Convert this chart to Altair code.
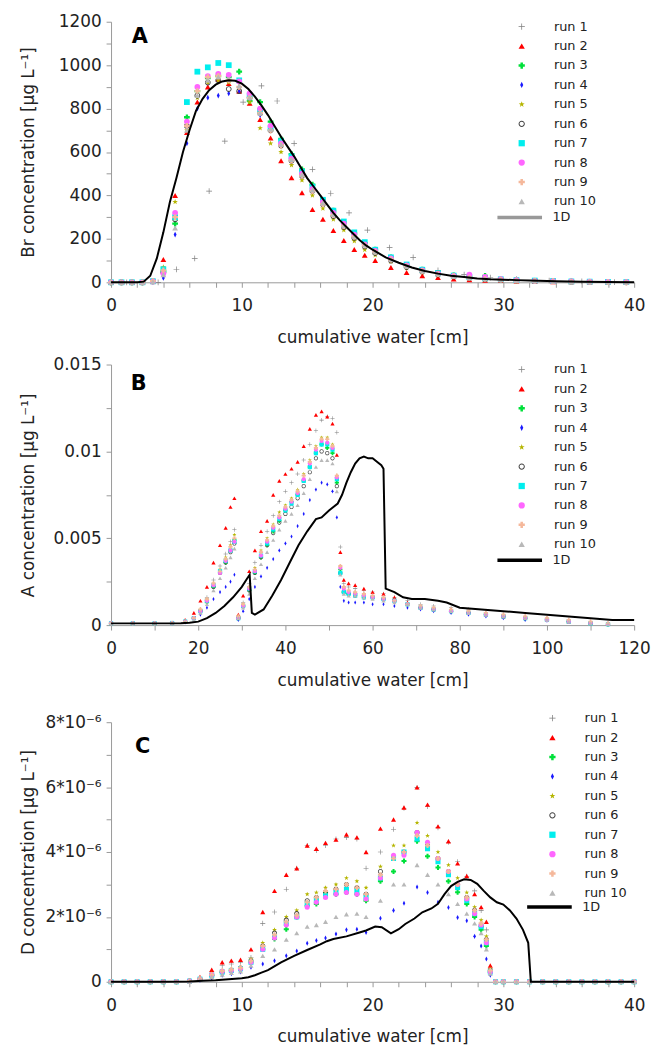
import altair as alt
import pandas as pd

FONT = "DejaVu Sans"
RUNS = ["run 1", "run 2", "run 3", "run 4", "run 5", "run 6", "run 7", "run 8", "run 9", "run 10"]
RUN_COLORS = ["#7f7f7f", "#ff0000", "#00e03a", "#1a1aff", "#b5b500", "#444444",
              "#00eeee", "#ff66ff", "#f5b89b", "#b8b8b8"]
PLUS = "M-1,-0.12L1,-0.12L1,0.12L-1,0.12Z M-0.12,-1L0.12,-1L0.12,1L-0.12,1Z"
THIN_DIAMOND = "M0,-1L0.5,0L0,1L-0.5,0Z"
STAR = ("M0,-1L0.235,-0.324L0.951,-0.309L0.38,0.124L0.588,0.809L0,0.4"
        "L-0.588,0.809L-0.38,0.124L-0.951,-0.309L-0.235,-0.324Z")
RING = ("M1,0A1,1,0,1,1,-1,0A1,1,0,1,1,1,0Z "
        "M0.68,0A0.68,0.68,0,1,0,-0.68,0A0.68,0.68,0,1,0,0.68,0Z")
RUN_SHAPES = [PLUS, "triangle-up", "cross", THIN_DIAMOND, STAR, RING,
              "square", "circle", "cross", "triangle-up"]

# ---------------- Panel A: Br ----------------
A_X = [0, 0.8, 1.6, 2.4, 3.2, 4.0, 4.9, 5.8, 6.6, 7.4,
       8.2, 9.0, 9.8, 10.6, 11.4, 12.2, 13.0, 13.8, 14.6, 15.4,
       16.2, 17.0, 17.8, 18.6, 19.4, 20.2, 21.4, 22.6, 23.8, 25.0,
       26.2, 27.4, 28.6, 29.8, 31.0, 32.4, 33.8, 35.2, 36.6, 38.0, 39.4]
A_RUN1_X = [0, 1.2, 2.4, 3.6, 5.0, 6.4, 7.5, 8.7, 10.1, 11.5, 12.7, 14.0, 15.4,
            16.8, 18.2, 19.6, 21.3, 23.1, 25.0, 27.0, 29.0, 31.0, 33.5, 36.0, 38.5]
A_RUN1_Y = [0, 0, 0, 0, 60, 110, 420, 650, 830, 905, 835, 640, 520,
            410, 320, 240, 160, 115, 55, 35, 22, 15, 8, 4, 1]
A_RUN2 = [0, 0, 0, 0, 8, 105, 400, 690, 830, 900, 935, 915, 880, 825, 750, 665, 560, 481, 412, 335,
          290, 238, 192, 151, 125, 100, 68, 45, 30, 22, 15, 12, 10, 8, 6, 4, 3, 2, 1, 1, 0]
A_RUN3 = [0, 0, 0, 0, 5, 50, 270, 760, 880, 940, 950, 945, 970, 835, 830, 740, 660, 590, 520, 450,
          380, 330, 275, 225, 180, 150, 115, 80, 58, 42, 32, 25, 30, 12, 9, 7, 5, 3, 2, 1, 1]
A_RUN4 = [0, 0, 0, 0, 3, 20, 220, 640, 800, 850, 860, 870, 880, 860, 770, 700, 640, 570, 500, 430,
          370, 315, 265, 215, 175, 145, 110, 78, 55, 40, 30, 22, 17, 13, 10, 8, 6, 4, 3, 2, 1]
A_RUN5 = [0, 0, 0, 0, 6, 70, 370, 700, 850, 920, 930, 920, 900, 830, 710, 640, 600, 540, 470, 400,
          340, 290, 240, 190, 150, 125, 95, 65, 45, 33, 25, 18, 14, 10, 8, 6, 4, 3, 2, 1, 0]
A_RUN6 = [0, 0, 0, 0, 4, 45, 290, 720, 860, 920, 930, 890, 880, 850, 780, 700, 630, 560, 490, 420,
          360, 305, 255, 205, 165, 135, 100, 70, 50, 36, 27, 20, 15, 12, 9, 7, 5, 3, 2, 1, 0]
A_RUN7 = [0, 0, 0, 0, 5, 60, 300, 830, 970, 990, 1010, 1000, 930, 860, 790, 710, 650, 580, 510, 440,
          380, 330, 280, 230, 185, 150, 115, 82, 58, 42, 31, 24, 18, 14, 10, 8, 6, 4, 3, 2, 1]
A_RUN8 = [0, 0, 0, 0, 4, 40, 320, 740, 900, 950, 960, 955, 925, 870, 800, 720, 640, 570, 500, 430,
          370, 320, 270, 220, 175, 145, 110, 78, 55, 40, 30, 35, 25, 14, 10, 7, 5, 4, 3, 2, 1]
A_RUN9 = [0, 0, 0, 0, 5, 55, 300, 720, 880, 945, 950, 930, 900, 850, 780, 700, 630, 560, 490, 420,
          360, 310, 260, 210, 170, 140, 105, 74, 52, 38, 28, 21, 16, 12, 9, 7, 5, 3, 2, 1, 0]
A_RUN10 = [0, 0, 0, 0, 3, 35, 250, 700, 860, 930, 945, 935, 905, 850, 780, 705, 635, 565, 495, 425,
           365, 312, 262, 212, 172, 140, 105, 74, 52, 38, 28, 21, 16, 12, 9, 7, 5, 3, 2, 1, 0]
A_LINE_X = [0, 1, 2, 2.5, 3, 3.5, 4, 4.5, 5, 5.5, 6, 6.5, 7, 7.5, 8, 8.5, 9, 9.5, 10, 10.5,
            11, 11.5, 12, 12.5, 13, 13.5, 14, 14.5, 15, 15.5, 16, 16.5, 17, 17.5, 18, 18.5, 19, 19.5,
            20, 21, 22, 23, 24, 25, 26, 27, 28, 29, 30, 31, 32, 34, 36, 38, 40]
A_LINE_Y = [0, 0, 0, 3, 30, 110, 230, 370, 480, 600, 700, 790, 845, 885, 910, 925, 930, 928, 915, 890,
            855, 815, 770, 720, 670, 625, 580, 530, 480, 440, 400, 360, 320, 285, 255, 225, 195, 170,
            150, 115, 90, 68, 52, 40, 30, 24, 18, 14, 12, 10, 8, 5, 3, 1, 0]

# ---------------- Panel B: A ----------------
B_X = [0, 5, 10, 14, 17, 19, 20.5, 22, 23.5, 25,
       26.3, 27.4, 28.3, 29.2, 30.3, 31.7, 33, 34.4, 35.8, 37.2,
       38.6, 40, 41.4, 42.8, 44.2, 45.6, 47, 48.3, 49.6, 50.8,
       51.8, 52.6, 53.4, 54.5, 56, 58, 60, 62.5, 65, 68,
       71, 74, 78, 82, 86, 90, 95, 100, 105, 110, 114]
B_RUN1 = [.0001, .0001, .0001, .00012, .0002, .0004, .0009, .0016, .0026, .0034,
          .0041, .0048, .0055, .0005, .0013, .0024, .0036, .0046, .0054, .0063,
          .0071, .0077, .0082, .0087, .0095, .0104, .0112, .0118, .012, .0119,
          .0111, .0045, .0024, .0022, .0021, .002, .0019, .0018, .0016, .0014,
          .0012, .0011, .001, .0009, .0007, .0006, .0005, .0004, .0003, .0002, .0001]
B_RUN2 = [.0001, .0001, .0001, .00015, .0003, .0007, .0014, .0022, .0036, .0046,
          .0056, .0068, .0073, .0006, .0017, .0031, .0043, .0054, .006, .0075,
          .0083, .0087, .009, .0094, .0103, .0113, .0121, .0123, .012, .0116,
          .0098, .0042, .0026, .0024, .0023, .0021, .0019, .0018, .0016, .0013,
          .0011, .001, .0009, .0008, .0006, .0005, .0004, .0003, .0002, .00012, .00005]
B_RUN3 = [.0001, .0001, .0001, .00012, .0002, .0004, .0008, .0013, .0022, .003,
          .0036, .0043, .0049, .0004, .0011, .002, .003, .0039, .0046, .0054,
          .006, .0066, .0071, .0075, .0083, .0091, .0099, .0104, .0102, .0099,
          .0082, .0032, .0019, .0018, .0018, .0017, .0016, .0015, .0014, .0012,
          .001, .0009, .0008, .0007, .0006, .0005, .0004, .0003, .0002, .0001, .00005]
B_RUN4 = [.00008, .00008, .00008, .0001, .00015, .0003, .0006, .001, .0015, .0019,
          .0022, .0025, .0029, .0003, .0008, .0015, .0022, .0028, .0033, .0038,
          .0043, .0047, .0051, .0057, .0064, .0072, .0078, .0082, .0081, .0077,
          .0062, .0022, .0014, .0013, .0013, .0013, .0012, .0012, .0011, .001,
          .0009, .0008, .0007, .0006, .0005, .0004, .0003, .00025, .0002, .0001, .00005]
B_RUN5 = [.0001, .0001, .0001, .00012, .0002, .0004, .0009, .0015, .0024, .0032,
          .0039, .0046, .0052, .0005, .0012, .0022, .0033, .0043, .005, .0058,
          .0065, .0069, .0073, .0078, .0087, .0095, .0103, .0108, .0108, .0104,
          .0086, .0034, .002, .0019, .0018, .0017, .0016, .0015, .0014, .0012,
          .001, .0009, .0008, .0007, .0006, .0005, .0004, .0003, .0002, .0001, .00005]
B_RUN6 = [.0001, .0001, .0001, .00012, .0002, .0004, .0008, .0014, .0022, .003,
          .0036, .0042, .0047, .0004, .0011, .002, .003, .0039, .0046, .0053,
          .0059, .0064, .0068, .0073, .008, .0088, .0096, .01, .0099, .0096,
          .008, .003, .0019, .0018, .0017, .0016, .0016, .0015, .0014, .0012,
          .001, .0009, .0008, .0007, .0006, .0005, .0004, .0003, .0002, .0001, .00005]
B_RUN7 = [.0001, .0001, .0001, .00012, .0002, .0004, .0008, .0014, .0023, .0031,
          .0037, .0043, .0048, .0004, .0011, .0021, .0031, .004, .0047, .0055,
          .0061, .0066, .007, .0075, .0083, .0091, .0099, .0104, .0104, .0101,
          .0084, .003, .0019, .0018, .0017, .0016, .0016, .0015, .0014, .0012,
          .001, .0009, .0008, .0007, .0006, .0005, .0004, .0003, .0002, .0001, .00005]
B_RUN8 = [.0001, .0001, .0001, .00012, .0002, .0004, .0008, .0014, .0023, .003,
          .0037, .0043, .0048, .0004, .0011, .0021, .0031, .004, .0048, .0056,
          .0062, .0067, .0071, .0076, .0084, .0093, .0101, .0106, .0105, .0102,
          .0085, .0033, .0021, .0019, .0018, .0017, .0016, .0015, .0014, .0012,
          .001, .0009, .0008, .0007, .0006, .0005, .0004, .0003, .0002, .0001, .00005]
B_RUN9 = [.0001, .0001, .0001, .00012, .0002, .0004, .0009, .0015, .0024, .0031,
          .0038, .0045, .005, .0005, .0012, .0022, .0032, .0042, .0049, .0057,
          .0063, .0068, .0072, .0077, .0086, .0094, .0102, .0107, .0107, .0103,
          .0086, .0034, .0022, .002, .0019, .0018, .0017, .0016, .0014, .0012,
          .0011, .001, .0009, .0008, .0007, .0006, .0005, .0004, .0003, .0002, .0001]
B_RUN10 = [.0001, .0001, .0001, .00012, .0002, .0003, .0007, .0012, .002, .0027,
           .0033, .0039, .0044, .0004, .001, .0018, .0027, .0035, .0042, .0049,
           .0055, .006, .0064, .0069, .0076, .0084, .0091, .0095, .0095, .0093,
           .0077, .0029, .0018, .0017, .0017, .0016, .0015, .0014, .0013, .0012,
           .001, .0009, .0008, .0007, .0006, .0005, .0004, .0003, .0002, .0001, .00005]
B_LINE_X = [0, 10, 16, 18, 20, 22, 24, 26, 28, 30, 31, 31.8, 32.3, 33, 35, 37, 39, 41, 43, 45,
            47, 48.3, 50, 52, 53, 54, 55, 56, 57, 58, 59, 60, 61, 62, 62.5, 63.0, 65, 67, 69, 72,
            75, 77, 80, 85, 90, 95, 100, 105, 110, 115, 120]
B_LINE_Y = [.0001, .0001, .00011, .00014, .0002, .0004, .0007, .0011, .0016, .0022,
            .0026, .0029, .0007, .0006, .0009, .0017, .0026, .0036, .0046, .0054,
            .0061, .0062, .0066, .0070, .0075, .0082, .0088, .0093, .0096, .0097,
            .0096, .0096, .0094, .0092, .0090, .0021, .0019, .0016, .0015, .0015,
            .0014, .0013, .0010, .0009, .0008, .0007, .0006, .0005, .0004, .0003, .0003]

# ---------------- Panel C: D (values in units of 1e-6) ----------------
C_X = [0, 1, 2, 3, 4, 5, 6, 6.8, 7.7, 8.5, 9.2, 9.9, 10.7, 11.6, 12.5, 13.4, 14.2,
       15.0, 15.7, 16.4, 17.2, 18.0, 18.8, 19.5, 20.6, 21.6, 22.4, 23.4, 24.2, 25.0,
       25.8, 26.5, 27.2, 27.8, 28.3, 28.7, 29.0, 29.4, 30.0, 31, 32, 33, 34, 35, 36,
       37, 38, 39, 40]
C_RUN1 = [0, 0, 0, 0, 0, 0, 0.03, 0.1, 0.3, 0.5, 0.55, 0.6, 0.75, 1.8, 2.15, 2.85, 3.5,
          4.2, 4.05, 4.2, 4.4, 4.45, 4.4, 3.5, 4.0, 4.7, 5.35, 5.99, 5.4, 4.75,
          4.3, 3.7, 3.25, 2.8, 2.2, 1.6, 0.4, 0, 0, 0, 0, 0, 0, 0, 0, 0, 0, 0, 0]
C_RUN2 = [0, 0, 0, 0, 0, 0, 0.05, 0.15, 0.37, 0.6, 0.65, 0.68, 1.0, 2.15, 2.8, 3.3, 3.5,
          4.2, 4.1, 4.28, 4.38, 4.54, 4.45, 4.0, 4.72, 5.0, 5.37, 5.99, 5.46, 4.79,
          4.33, 3.65, 3.26, 2.7, 2.3, 1.85, 0.5, 0, 0, 0, 0, 0, 0, 0, 0, 0, 0, 0, 0]
C_RUN3 = [0, 0, 0, 0, 0, 0, 0.02, 0.08, 0.2, 0.3, 0.35, 0.4, 0.6, 1.0, 1.32, 1.62, 2.0,
          2.34, 2.4, 2.75, 2.7, 2.75, 2.7, 2.5, 3.1, 3.4, 3.72, 4.33, 3.87, 3.52,
          3.1, 2.76, 2.4, 2.0, 1.6, 1.1, 0.3, 0, 0, 0, 0, 0, 0, 0, 0, 0, 0, 0, 0]
C_RUN4 = [0, 0, 0, 0, 0, 0, 0.01, 0.05, 0.12, 0.2, 0.25, 0.3, 0.45, 0.55, 0.65, 0.8, 0.95,
          1.19, 1.27, 1.35, 1.47, 1.6, 1.62, 1.52, 1.96, 2.2, 2.42, 2.92, 2.75, 2.45,
          2.29, 1.98, 1.88, 1.4, 1.1, 0.7, 0.2, 0, 0, 0, 0, 0, 0, 0, 0, 0, 0, 0, 0]
C_RUN5 = [0, 0, 0, 0, 0, 0, 0.02, 0.1, 0.25, 0.35, 0.4, 0.45, 0.7, 1.2, 1.6, 2.0, 2.2,
          2.7, 2.75, 2.9, 3.0, 3.2, 3.1, 2.9, 3.55, 4.2, 4.2, 4.9, 4.5, 4.0,
          3.6, 3.2, 2.75, 2.3, 1.9, 1.4, 0.4, 0, 0, 0, 0, 0, 0, 0, 0, 0, 0, 0, 0]
C_RUN6 = [0, 0, 0, 0, 0, 0, 0.02, 0.08, 0.2, 0.3, 0.35, 0.42, 0.65, 1.1, 1.5, 1.9, 2.1,
          2.5, 2.6, 2.75, 2.85, 3.0, 2.9, 2.7, 3.4, 3.8, 4.0, 4.6, 4.2, 3.8,
          3.4, 3.0, 2.6, 2.2, 1.7, 1.3, 0.35, 0, 0, 0, 0, 0, 0, 0, 0, 0, 0, 0, 0]
C_RUN7 = [0, 0, 0, 0, 0, 0, 0.02, 0.08, 0.2, 0.3, 0.35, 0.4, 0.6, 1.0, 1.4, 1.8, 2.0,
          2.4, 2.5, 2.65, 2.75, 2.85, 2.8, 2.6, 3.2, 3.8, 4.0, 4.4, 4.1, 3.7,
          3.3, 2.9, 2.5, 2.1, 1.7, 1.2, 0.3, 0, 0, 0, 0, 0, 0, 0, 0, 0, 0, 0, 0]
C_RUN8 = [0, 0, 0, 0, 0, 0, 0.02, 0.08, 0.22, 0.32, 0.35, 0.4, 0.6, 1.0, 1.35, 1.75, 2.0,
          2.3, 2.45, 2.6, 2.7, 2.75, 2.7, 2.55, 3.2, 3.9, 3.9, 4.6, 4.3, 3.8,
          3.4, 3.0, 2.55, 2.1, 1.75, 1.2, 0.3, 0, 0, 0, 0, 0, 0, 0, 0, 0, 0, 0, 0]
C_RUN9 = [0, 0, 0, 0, 0, 0, 0.02, 0.09, 0.22, 0.33, 0.38, 0.43, 0.65, 1.1, 1.45, 1.85, 2.05,
          2.45, 2.6, 2.8, 2.85, 3.0, 2.9, 2.7, 3.3, 3.8, 4.0, 4.5, 4.2, 3.8,
          3.4, 3.0, 2.6, 2.2, 1.8, 1.3, 0.35, 0, 0, 0, 0, 0, 0, 0, 0, 0, 0, 0, 0]
C_RUN10 = [0, 0, 0, 0, 0, 0, 0.01, 0.06, 0.15, 0.22, 0.28, 0.32, 0.5, 0.8, 1.0, 1.3, 1.5,
           1.7, 1.75, 1.85, 2.0, 2.08, 2.1, 2.0, 2.5, 3.0, 3.0, 3.6, 3.3, 3.0,
           2.7, 2.4, 2.1, 1.8, 1.5, 1.0, 0.25, 0, 0, 0, 0, 0, 0, 0, 0, 0, 0, 0, 0]
C_LINE_X = [0, 4, 6, 7, 8, 9, 10, 10.5, 11, 11.5, 12, 13, 14, 15, 16, 16.5, 17, 18, 19, 19.5,
            20.2, 20.7, 21.4, 22, 22.5, 23.2, 23.8, 24.5, 25, 25.5, 26, 26.5, 27, 27.5, 28, 28.5,
            29, 29.5, 30, 30.5, 31, 31.5, 31.9, 32.1, 33, 36, 40]
C_LINE_Y = [0, 0, 0.01, 0.03, 0.05, 0.08, 0.11, 0.14, 0.2, 0.28, 0.36, 0.6, 0.8, 0.98, 1.15, 1.25,
            1.32, 1.4, 1.52, 1.58, 1.7, 1.68, 1.49, 1.62, 1.78, 1.95, 2.14, 2.26, 2.4, 2.7, 2.95,
            3.08, 3.16, 3.14, 3.02, 2.8, 2.6, 2.45, 2.38, 2.2, 1.95, 1.6, 1.2, 0, 0, 0, 0]


def runs_frame(xs_list, ys_list):
    rows = []
    for name, xs, ys in zip(RUNS, xs_list, ys_list):
        for xv, yv in zip(xs, ys):
            rows.append({"run": name, "x": xv, "y": yv})
    return pd.DataFrame(rows)


def panel(letter, pts, line, x_dom, x_vals, x_lab, y_dom, y_vals, y_lab, y_fmt, y_title,
          pt_size, leg_x, leg_y, key_x, key_y, key_color, tag_x, tag_y, h):
    x_enc = alt.X("x:Q", scale=alt.Scale(domain=x_dom, nice=False, zero=False),
                  axis=alt.Axis(values=x_vals, labelExpr=x_lab, title="cumulative water [cm]",
                                labelPadding=10.5, titlePadding=16, labelOverlap=False,
                                labelFlush=False))
    y_enc = alt.Y("y:Q", scale=alt.Scale(domain=y_dom, nice=False),
                  axis=alt.Axis(values=y_vals, labelExpr=y_lab, format=y_fmt, title=y_title,
                                labelPadding=5, titlePadding=10, minExtent=64, maxExtent=64,
                                labelOverlap=False, labelFlush=False))
    run_legend = alt.Legend(title=None, orient="none", legendX=leg_x, legendY=leg_y,
                            symbolSize=40, labelFont=FONT, labelFontSize=13, labelColor="#222",
                            labelOffset=26, rowPadding=5.6, padding=0)
    points = alt.Chart(pts).mark_point(filled=True, opacity=1, size=pt_size).encode(
        x=x_enc, y=y_enc,
        color=alt.Color("run:N", scale=alt.Scale(domain=RUNS, range=RUN_COLORS), legend=run_legend),
        shape=alt.Shape("run:N", scale=alt.Scale(domain=RUNS, range=RUN_SHAPES), legend=run_legend),
    )
    curve = alt.Chart(line).mark_line(color="black", strokeWidth=2).encode(x=x_enc, y=y_enc)
    key_df = pd.DataFrame({"x": [x_dom[0]], "y": [y_dom[0]], "model": ["1D"]})
    key = alt.Chart(key_df).mark_line().encode(
        x=x_enc, y=y_enc,
        stroke=alt.Stroke("model:N", scale=alt.Scale(domain=["1D"], range=[key_color]),
                          legend=alt.Legend(title=None, orient="none", legendX=key_x, legendY=key_y,
                                            symbolType="stroke", symbolSize=2025,
                                            symbolStrokeWidth=3.5, labelFont=FONT,
                                            labelFontSize=13, labelColor="#222",
                                            labelOffset=8.5, padding=0)),
    )
    tag = alt.Chart(pd.DataFrame({"label": [letter]})).mark_text(
        font=FONT, fontSize=21, fontWeight="bold", color="black", align="center", baseline="middle"
    ).encode(x=alt.value(tag_x), y=alt.value(tag_y), text="label:N")
    return alt.layer(points, curve, key, tag).properties(width=528, height=h)


ptsA = runs_frame([A_RUN1_X] + [A_X] * 9,
                  [A_RUN1_Y, A_RUN2, A_RUN3, A_RUN4, A_RUN5, A_RUN6, A_RUN7, A_RUN8, A_RUN9, A_RUN10])
ptsB = runs_frame([B_X] * 10,
                  [B_RUN1, B_RUN2, B_RUN3, B_RUN4, B_RUN5, B_RUN6, B_RUN7, B_RUN8, B_RUN9, B_RUN10])
ptsC = runs_frame([C_X] * 10,
                  [C_RUN1, C_RUN2, C_RUN3, C_RUN4, C_RUN5, C_RUN6, C_RUN7, C_RUN8, C_RUN9, C_RUN10])
lineA = pd.DataFrame({"x": A_LINE_X, "y": A_LINE_Y})
lineB = pd.DataFrame({"x": B_LINE_X, "y": B_LINE_Y})
lineC = pd.DataFrame({"x": C_LINE_X, "y": C_LINE_Y})

pA = panel("A", ptsA, lineA, [0, 40], list(range(0, 41, 2)),
           "datum.value % 10 == 0 ? datum.label : ''",
           [0, 1200], list(range(0, 1201, 100)),
           "datum.value % 200 == 0 ? datum.label : ''", "d",
           "Br concentration  [µg L⁻¹]", 34, 408, -1.5, 388, 173, "#999999", 29, 15, 263)
pB = panel("B", ptsB, lineB, [0, 120], list(range(0, 121, 10)),
           "datum.value % 20 == 0 ? datum.label : ''",
           [0, 0.015], [0, 0.0025, 0.005, 0.0075, 0.01, 0.0125, 0.015],
           "abs(datum.value * 200 - round(datum.value * 200)) < 0.001 ? datum.label : ''", "~g",
           "A concentration [µg L⁻¹]", 18, 408, -1.5, 388, 173, "black", 28, 20, 263)
pC = panel("C", ptsC, lineC, [0, 40], list(range(0, 41, 2)),
           "datum.value % 10 == 0 ? datum.label : ''",
           [0, 8], list(range(0, 9, 1)),
           "datum.value % 2 == 0 ? (datum.value == 0 ? '0' : datum.value + '*10⁻⁶') : ''", "d",
           "D concentration [µg L⁻¹]", 26, 439, -10.5, 418, 162, "black", 32, 25, 262)

INDEP = dict(color="independent", shape="independent", stroke="independent")
top = alt.vconcat(pA, pB, spacing=10).resolve_scale(**INDEP).resolve_legend(**INDEP)
chart = alt.vconcat(top, pC, spacing=23).resolve_scale(**INDEP).resolve_legend(**INDEP).properties(
    padding={"left": 12, "top": 0, "right": 0, "bottom": 0}
).configure_view(stroke=None).configure_axis(
    labelFont=FONT, labelFontSize=17, titleFont=FONT, titleFontSize=17, titleFontWeight="normal",
    labelColor="#222", titleColor="#222", domainColor="#999", tickColor="#999", tickSize=5,
    grid=False
)

chart.save("out.html", embed_options={"renderer": "svg", "actions": False})
